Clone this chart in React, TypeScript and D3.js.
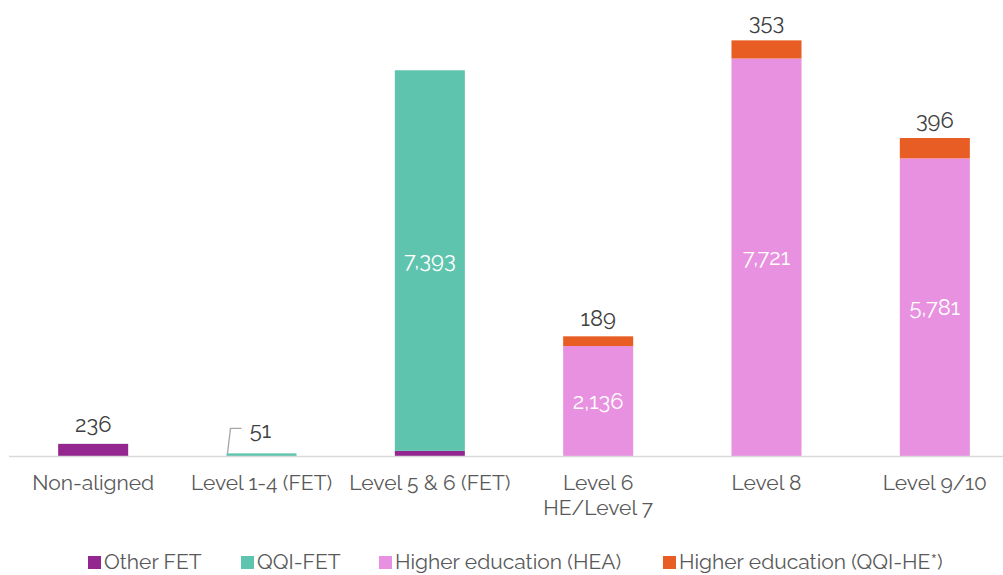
import { useEffect, useRef } from 'react';
import * as d3 from 'd3';

const categories = ['Non-aligned', 'Level 1-4 (FET)', 'Level 5 & 6 (FET)', 'Level 6\nHE/Level 7', 'Level 8', 'Level 9/10'];
const seriesNames = ['Other FET', 'QQI-FET', 'Higher education (HEA)', 'Higher education (QQI-HE*)'];
const otherFet = [236, 0, 100, 0, 0, 0];
const qqiFet = [0, 51, 7393, 0, 0, 0];
const hea = [0, 0, 0, 2136, 7721, 5781];
const qqiHe = [0, 0, 0, 189, 353, 396];
const colors = ['#93278F', '#5FC4AE', '#E891E0', '#E85D24'];

const W = 1003;
const H = 575;
const FONT = "Raleway, 'Open Sans', Lato, sans-serif";

export default function App() {
  const svgRef = useRef<SVGSVGElement>(null);

  useEffect(() => {
    document.body.style.margin = '0';
    if (!svgRef.current) return;
    const svg = d3.select(svgRef.current);
    svg.selectAll('*').remove();

    const rows = categories.map((c, i) => ({
      cat: c,
      'Other FET': otherFet[i],
      'QQI-FET': qqiFet[i],
      'Higher education (HEA)': hea[i],
      'Higher education (QQI-HE*)': qqiHe[i],
    }));
    const stack = d3.stack<any>().keys(seriesNames)(rows);

    const x = d3.scaleBand().domain(categories).range([9, 1019]).paddingInner(0.584).paddingOuter(0.292);
    const y = d3.scaleLinear().domain([0, 8800]).range([456, 3]);

    // bars
    stack.forEach((s, si) => {
      svg.append('g')
        .selectAll('rect')
        .data(s.filter((d) => d[1] - d[0] > 0))
        .join('rect')
        .attr('x', (d: any) => x(d.data.cat)!)
        .attr('width', x.bandwidth())
        .attr('y', (d) => y(d[1]))
        .attr('height', (d) => y(d[0]) - y(d[1]))
        .attr('fill', colors[si]);
    });

    // axis line
    svg.append('line')
      .attr('x1', 9).attr('x2', W)
      .attr('y1', 456.5).attr('y2', 456.5)
      .attr('stroke', '#D9D9D9').attr('stroke-width', 1.5);

    // category labels
    categories.forEach((c) => {
      const t = svg.append('text')
        .attr('x', x(c)! + x.bandwidth() / 2)
        .attr('y', 490)
        .attr('text-anchor', 'middle')
        .attr('font-family', FONT)
        .attr('font-size', 21)
        .attr('fill', '#595959');
      c.split('\n').forEach((line, li) => {
        t.append('tspan').attr('x', x(c)! + x.bandwidth() / 2).attr('dy', li === 0 ? 0 : 25).text(line);
      });
    });

    const fmt = d3.format(',');
    const cx = (i: number) => x(categories[i])! + x.bandwidth() / 2;

    // inside labels (big segments)
    stack.forEach((s) => {
      s.forEach((d, i) => {
        const v = d[1] - d[0];
        if (v > 1000) {
          svg.append('text')
            .attr('x', cx(i))
            .attr('y', (y(d[0]) + y(d[1])) / 2)
            .attr('dy', '0.35em')
            .attr('text-anchor', 'middle')
            .attr('font-family', FONT)
            .attr('font-size', 22)
            .attr('fill', '#FFFFFF')
            .text(fmt(v));
        }
      });
    });

    // labels above bars
    const topLabel = (v: number, top: number, lx: number) => {
      svg.append('text')
        .attr('x', lx)
        .attr('y', top)
        .attr('text-anchor', 'middle')
        .attr('font-family', FONT)
        .attr('font-size', 22)
        .attr('fill', '#404040')
        .text(fmt(v));
    };
    topLabel(otherFet[0], y(otherFet[0]) - 12, cx(0));
    // Level 1-4 with leader line
    const l14x = x(categories[1])!;
    const l14y = y(qqiFet[1]);
    svg.append('path')
      .attr('d', `M${l14x + 1},${l14y} L${l14x + 4},${l14y - 25} L${l14x + 15},${l14y - 25}`)
      .attr('fill', 'none')
      .attr('stroke', '#A6A6A6')
      .attr('stroke-width', 1.3);
    topLabel(qqiFet[1], l14y - 15, l14x + 34);
    [3, 4, 5].forEach((i) => {
      const top = y(hea[i] + qqiHe[i]);
      topLabel(qqiHe[i], top - 10, cx(i));
    });

    // legend
    const legendX = [88, 241, 379, 663];
    seriesNames.forEach((n, i) => {
      svg.append('rect')
        .attr('x', legendX[i]).attr('y', 556)
        .attr('width', 13).attr('height', 13)
        .attr('fill', colors[i]);
      svg.append('text')
        .attr('x', legendX[i] + 16)
        .attr('y', 569)
        .attr('font-family', FONT)
        .attr('font-size', 21)
        .attr('fill', '#595959')
        .text(n);
    });
  }, []);

  return <svg ref={svgRef} width={W} height={H} style={{ display: 'block' }} />;
}
